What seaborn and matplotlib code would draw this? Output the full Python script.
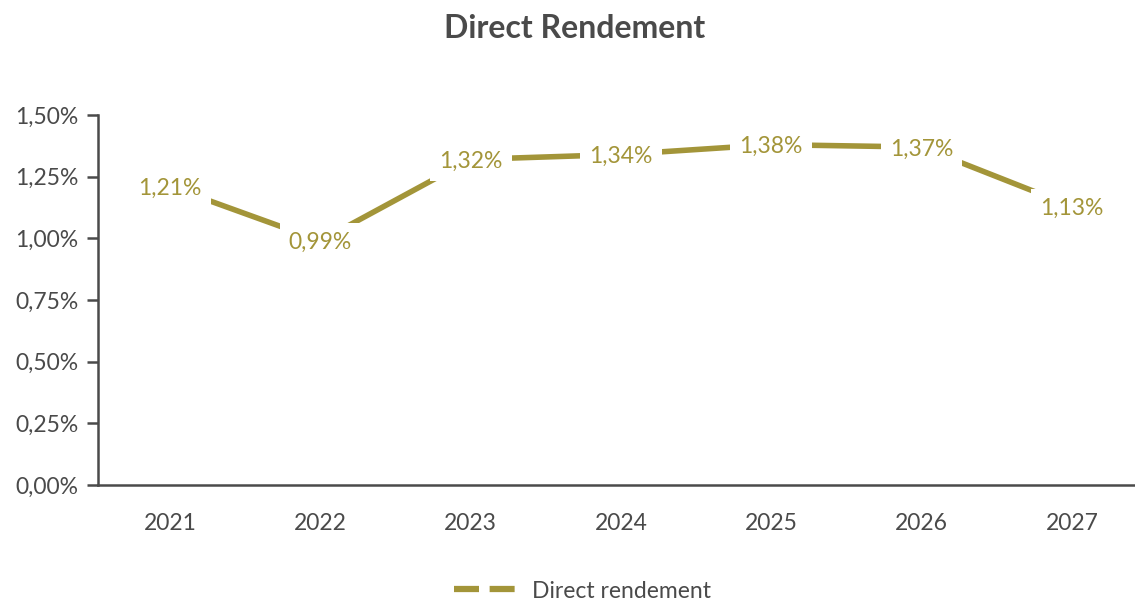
import matplotlib
matplotlib.use("Agg")
import matplotlib.pyplot as plt
from matplotlib.lines import Line2D
import seaborn as sns
import pandas as pd

years = ["2021", "2022", "2023", "2024", "2025", "2026", "2027"]
yield_pct = [1.21, 0.99, 1.32, 1.34, 1.38, 1.37, 1.13]
y_ticks = [0.0, 0.25, 0.50, 0.75, 1.00, 1.25, 1.50]
series_name = "Direct rendement"
title = "Direct Rendement"

gold = "#a39539"
text_grey = "#4a4a4a"

sns.set_theme(style="white")
plt.rcParams["font.family"] = ["Lato", "DejaVu Sans"]

df = pd.DataFrame({"jaar": years, "rendement": yield_pct})

fig = plt.figure(figsize=(11.35, 6.0), dpi=100)
ax = fig.add_axes([0.0863, 0.1917, 0.9137, 0.6166])

sns.lineplot(data=df, x="jaar", y="rendement", ax=ax, color=gold,
             linewidth=4.0, solid_capstyle="butt", legend=False, zorder=2)

def pct(v):
    return f"{v:.2f}".replace(".", ",") + "%"

for i, v in enumerate(yield_pct):
    ax.text(i, v, pct(v), ha="center", va="center_baseline", fontsize=16.5,
            color=gold, zorder=3,
            bbox=dict(boxstyle="square,pad=0.4", facecolor="white", edgecolor="none"))

ax.set_xlim(-0.48, 6.42)
ax.set_ylim(0, 1.5)
ax.set_yticks(y_ticks)
ax.set_yticklabels([pct(t) for t in y_ticks])
ax.set_xlabel("")
ax.set_ylabel("")

for side in ["top", "right"]:
    ax.spines[side].set_visible(False)
for side in ["left", "bottom"]:
    ax.spines[side].set_color(text_grey)
    ax.spines[side].set_linewidth(1.8)

ax.tick_params(axis="y", which="major", left=True, length=8, width=1.8,
               color=text_grey, labelsize=16.5, labelcolor=text_grey, pad=6)
ax.tick_params(axis="x", which="major", bottom=False, labelsize=16.5,
               labelcolor=text_grey, pad=14)

fig.text(0.506, 0.952, title, ha="center", va="center", fontsize=23,
         fontweight="bold", color=text_grey)

handle = Line2D([], [], color=gold, linewidth=4.5, linestyle=(0, (4.0, 1.7)))
fig.legend([handle], [series_name], loc="center", bbox_to_anchor=(0.513, 0.015),
           frameon=False, fontsize=16.5, handlelength=2.8, handletextpad=0.6,
           labelcolor=text_grey)

fig.savefig("out.png", dpi=100)
